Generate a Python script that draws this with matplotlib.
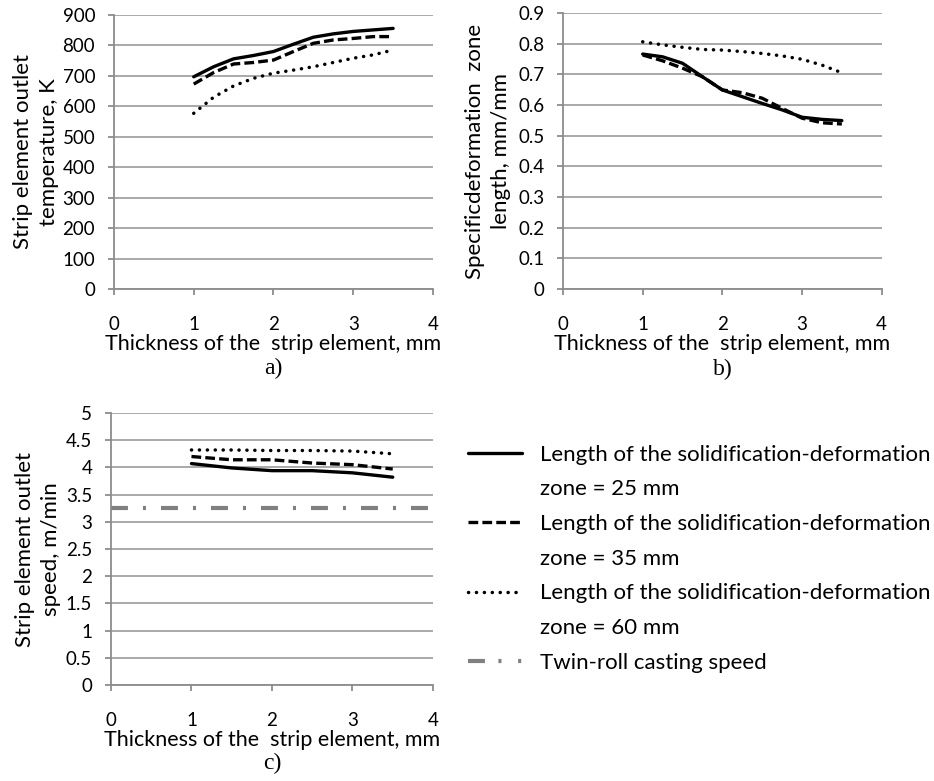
import matplotlib
matplotlib.use("Agg")
import matplotlib.pyplot as plt
from matplotlib.lines import Line2D

# thickness of the strip element, mm (values read every 0.25 mm for a and b)
thickness_fine = [1.0, 1.25, 1.5, 1.75, 2.0, 2.25, 2.5, 2.75, 3.0, 3.25, 3.5]
thickness = [1.0, 1.5, 2.0, 2.5, 3.0, 3.5]

# a) outlet temperature, K
temp_25 = [697, 730, 756, 767, 780, 804, 827, 838, 846, 851, 856]
temp_35 = [673, 711, 739, 744, 752, 780, 807, 818, 823, 829, 829]
temp_60 = [577, 630, 667, 692, 709, 719, 730, 744, 758, 769, 785]

# b) specific deformation zone length, mm/mm
len_25 = [0.766, 0.757, 0.736, 0.692, 0.649, 0.627, 0.605, 0.584, 0.560, 0.553, 0.549]
len_35 = [0.763, 0.744, 0.720, 0.692, 0.649, 0.640, 0.622, 0.589, 0.557, 0.542, 0.538]
len_60 = [0.806, 0.796, 0.788, 0.781, 0.779, 0.774, 0.768, 0.760, 0.749, 0.730, 0.705]

# c) outlet speed, m/min
speed_25 = [4.07, 3.99, 3.94, 3.94, 3.90, 3.82]
speed_35 = [4.20, 4.14, 4.14, 4.08, 4.05, 3.97]
speed_60 = [4.32, 4.32, 4.31, 4.31, 4.30, 4.25]
casting_x = [0, 4]
casting_speed = [3.26, 3.26]

labels = ["Length of the solidification-deformation",
          "zone = 25 mm",
          "Length of the solidification-deformation",
          "zone = 35 mm",
          "Length of the solidification-deformation",
          "zone = 60 mm",
          "Twin-roll casting speed"]

plt.rcParams['font.family'] = ['Lato', 'DejaVu Sans']
plt.rcParams['lines.scale_dashes'] = False

axis_col = "#8c8c8c"
grid_col = "#a3a3a3"
solid = dict(color="black", lw=2.4, linestyle="-", solid_capstyle="round")
dashed = dict(color="black", lw=2.4, linestyle=(0, (7, 3)))
dotted = dict(color="black", lw=2.5, linestyle=(0, (0.1, 5.6)), dash_capstyle="round")
dashdot = dict(color="#808080", lw=3, linestyle=(0, (12.2, 10.8, 2.2, 10.8)))

fig = plt.figure(figsize=(9.34, 7.81), dpi=100)
ax_a = fig.add_axes([0.122, 0.630, 0.3416, 0.3508])
ax_b = fig.add_axes([0.6028, 0.630, 0.3412, 0.3534])
ax_c = fig.add_axes([0.1188, 0.1229, 0.3448, 0.3483])


def style(ax, ymax, ystep, fmt):
    ax.set_xlim(0, 4)
    ax.set_ylim(0, ymax)
    ax.set_xticks([0, 1, 2, 3, 4])
    n = int(round(ymax / ystep))
    ax.set_yticks([i * ystep for i in range(n + 1)])
    ax.set_yticklabels([fmt(i * ystep) for i in range(n + 1)])
    for s in ["top", "right"]:
        ax.spines[s].set_visible(False)
    for s in ["left", "bottom"]:
        ax.spines[s].set_color(axis_col)
        ax.spines[s].set_linewidth(1.3)
    ax.grid(axis="y", color=grid_col, lw=1.3)
    ax.set_axisbelow(True)
    ax.tick_params(axis="both", direction="out", color=axis_col, width=1.3,
                   length=4.5, labelsize=13.5)
    ax.tick_params(axis="y", pad=9)
    ax.tick_params(axis="x", pad=15)
    ax.set_xlabel("Thickness of the  strip element, mm", fontsize=15.5, labelpad=1)


style(ax_a, 900, 100, lambda v: "%d" % v)
style(ax_b, 0.9, 0.1, lambda v: "0" if v == 0 else "%.1f" % v)
style(ax_c, 5, 0.5, lambda v: ("%g" % v))

ax_a.plot(thickness_fine, temp_25, **solid)
ax_a.plot(thickness_fine, temp_35, **dashed)
ax_a.plot(thickness_fine, temp_60, **dotted)
ax_a.set_ylabel("Strip element outlet\ntemperature, K", fontsize=16, linespacing=1.35)
ax_a.yaxis.set_label_coords(-0.172, 0.5)

ax_b.plot(thickness_fine, len_25, **solid)
ax_b.plot(thickness_fine, len_35, **dashed)
ax_b.plot(thickness_fine, len_60, **dotted)
ax_b.set_ylabel("Specificdeformation  zone\nlength, mm/mm", fontsize=16, linespacing=1.35)
ax_b.yaxis.set_label_coords(-0.163, 0.5)

ax_c.plot(casting_x, casting_speed, **dashdot)
ax_c.plot(thickness, speed_25, **solid)
ax_c.plot(thickness, speed_35, **dashed)
ax_c.plot(thickness, speed_60, **dotted)
ax_c.set_ylabel("Strip element outlet\nspeed, m/min", fontsize=16, linespacing=1.35)
ax_c.yaxis.set_label_coords(-0.155, 0.5)

for ax, tag in [(ax_a, "a)"), (ax_b, "b)"), (ax_c, "c)")]:
    ax.text(0.5, -0.29, tag, transform=ax.transAxes, ha="center", va="center",
            fontsize=17, family="Liberation Serif")

blank = Line2D([], [], color="none")
handles = [Line2D([], [], **solid), blank,
           Line2D([], [], **dashed), blank,
           Line2D([], [], **dotted), blank,
           Line2D([], [], color="#808080", lw=3,
                  linestyle=(0, (12.2, 9.7, 2.2, 12, 2.2, 20)))]
fig.legend(handles, labels, loc="upper left", bbox_to_anchor=(0.501, 0.4306),
           frameon=False, fontsize=16, handlelength=2.43, handletextpad=0.8,
           labelspacing=0.66, borderpad=0, borderaxespad=0)

fig.savefig("out.png", dpi=100)
